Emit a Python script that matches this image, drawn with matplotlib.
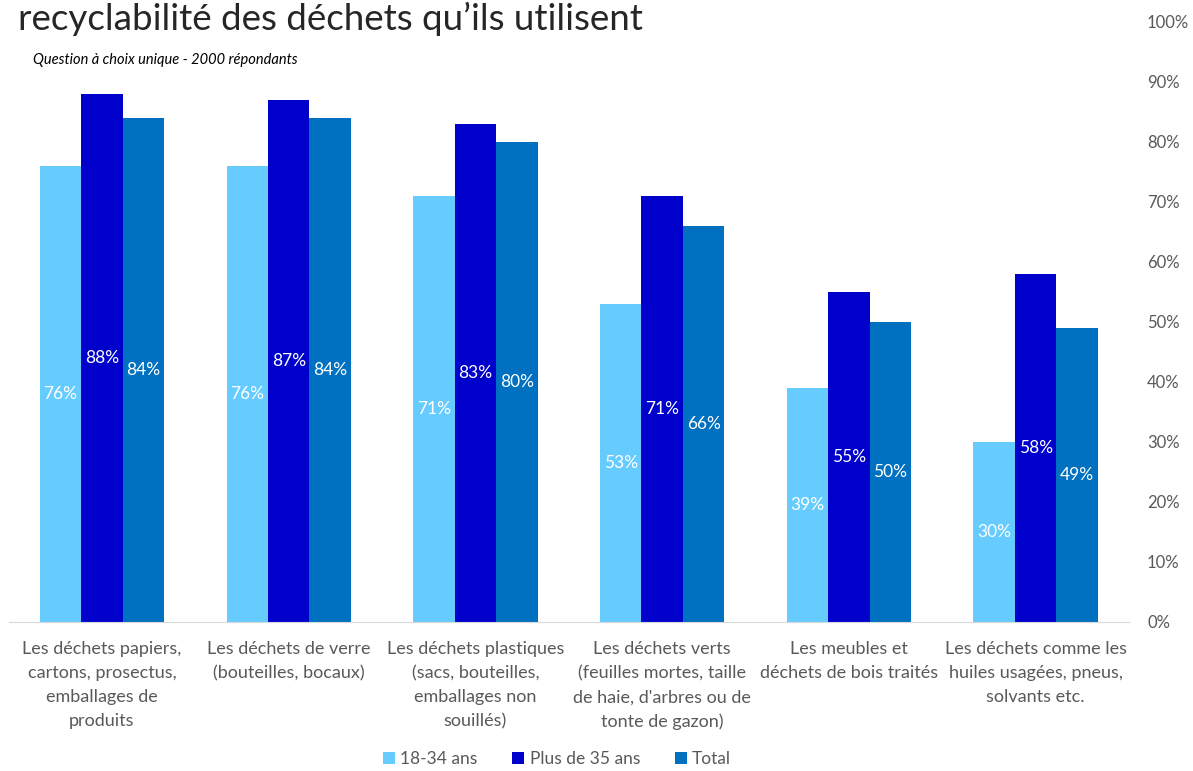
import matplotlib.pyplot as plt
import numpy as np

plt.rcParams['font.family'] = ['Lato', 'DejaVu Sans']

categories = [
    "Les déchets papiers,\ncartons, prosectus,\nemballages de\nproduits",
    "Les déchets de verre\n(bouteilles, bocaux)",
    "Les déchets plastiques\n(sacs, bouteilles,\nemballages non\nsouillés)",
    "Les déchets verts\n(feuilles mortes, taille\nde haie, d'arbres ou de\ntonte de gazon)",
    "Les meubles et\ndéchets de bois traités",
    "Les déchets comme les\nhuiles usagées, pneus,\nsolvants etc.",
]
young = [76, 76, 71, 53, 39, 30]
older = [88, 87, 83, 71, 55, 58]
total = [84, 84, 80, 66, 50, 49]
series_names = ["18-34 ans", "Plus de 35 ans", "Total"]
colors = ["#66CCFF", "#0000CC", "#0070C0"]

fig = plt.figure(figsize=(11.93, 7.71), dpi=100)
ax = fig.add_axes([8.6 / 1193, 149 / 771, (1129 - 8.6) / 1193, 600 / 771])

x = np.arange(len(categories))
w = 0.222
for i, (vals, name, col) in enumerate(zip([young, older, total], series_names, colors)):
    pos = x + (i - 1) * w
    bars = ax.bar(pos, vals, w, color=col, label=name)
    for b, v in zip(bars, vals):
        ax.text(b.get_x() + b.get_width() / 2, v / 2, f"{v}%", ha="center", va="center",
                color="white", fontsize=12.5)

ax.set_xlim(-0.5, len(categories) - 0.5)
ax.set_ylim(0, 100)
ax.yaxis.tick_right()
ax.set_yticks(range(0, 101, 10))
ax.set_yticklabels([f"{t}%" for t in range(0, 101, 10)])
ax.tick_params(axis="y", length=0, pad=13, labelsize=12, labelcolor="#595959")
ax.set_xticks(x)
ax.set_xticklabels(categories, fontsize=13, color="#595959", linespacing=1.6)
ax.tick_params(axis="x", length=0, pad=14)
for s in ["top", "left", "right"]:
    ax.spines[s].set_visible(False)
ax.spines["bottom"].set_color("#D9D9D9")

fig.text(18 / 1193, 1 - 19 / 771, "recyclabilité des déchets qu’ils utilisent",
         fontsize=26.5, color="#262626", va="center")
fig.text(33 / 1193, 1 - 60 / 771, "Question à choix unique - 2000 répondants",
         fontsize=10.5, style="italic", color="black", va="center")

fig.legend(loc="center", bbox_to_anchor=(557 / 1193, 1 - 759 / 771), ncol=3, frameon=False,
           fontsize=12.5, handlelength=0.7, handleheight=0.7, columnspacing=2.0,
           handletextpad=0.3, labelcolor="#595959")

fig.savefig("out.png", dpi=100)
